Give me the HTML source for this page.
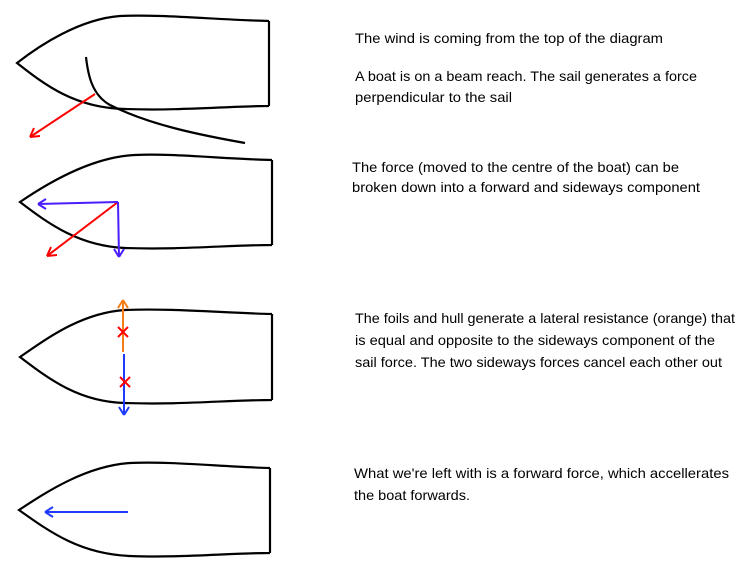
<!DOCTYPE html>
<html><head><style>body{margin:0;background:#fff}svg{display:block}</style></head><body>
<svg width="744" height="573" viewBox="0 0 744 573" xmlns="http://www.w3.org/2000/svg">
<g fill="none" stroke="#000" stroke-width="2.2">
<path d="M269,21 C220,20 160,14 120,16 C80,19 40,45 17,63 C45,85 75,108 125,109 C180,111 230,106 269,106 M269,21 V106"/>
<path d="M86,57 C88,75 92,95 110,105 C150,125 200,135 245,143"/>
<path d="M272,160 C225,159 170,153 135,155 C90,157 45,185 20,202 C50,225 80,246 125,248 C180,250 230,245 272,245 M272,160 V245"/>
<path d="M272,314 C225,313 170,308 125,310 C80,313 45,340 20,357 C50,380 80,402 125,403 C180,405 230,400 272,400 M272,314 V400"/>
<path d="M270,468 C225,467 170,461 130,463 C85,466 45,493 19,510 C50,532 80,554 130,556 C180,558 230,553 270,553 M270,468 V553"/>
</g>
<g stroke-width="2" fill="none">
<line x1="95" y1="94" x2="30" y2="137" stroke="#f00"/>
<path d="M30,137 l10,-1 M30,137 l4,-9" stroke="#f00"/>
<line x1="118" y1="202" x2="47" y2="256" stroke="#f00"/>
<path d="M47,256 l10,-1 M47,256 l4,-9" stroke="#f00"/>
<line x1="118" y1="202" x2="38" y2="204" stroke="#4a1eff"/>
<path d="M38,204 l8,-5 M38,204 l8,5" stroke="#4a1eff"/>
<line x1="118" y1="202" x2="119" y2="257" stroke="#4a1eff"/>
<path d="M119,257 l-5,-8 M119,257 l5,-8" stroke="#4a1eff"/>
<line x1="123" y1="352" x2="123" y2="300" stroke="#f57c16"/>
<path d="M123,300 l-5,8 M123,300 l5,8" stroke="#f57c16"/>
<line x1="124" y1="354" x2="124" y2="415" stroke="#1f3aff"/>
<path d="M124,415 l-5,-8 M124,415 l5,-8" stroke="#1f3aff"/>
<path d="M118,327 l10,10 M128,327 l-10,10 M120,377 l10,10 M130,377 l-10,10" stroke="#f00"/>
<line x1="128" y1="512" x2="45" y2="512" stroke="#1f3aff"/>
<path d="M45,512 l8,-5 M45,512 l8,5" stroke="#1f3aff"/>
</g>
<g font-family="Liberation Sans, sans-serif" font-size="14" fill="#000">
<text x="355" y="43" textLength="308" lengthAdjust="spacingAndGlyphs">The wind is coming from the top of the diagram</text>
<text x="355" y="81" textLength="342" lengthAdjust="spacingAndGlyphs">A boat is on a beam reach.  The sail generates a force</text>
<text x="355" y="102" textLength="157" lengthAdjust="spacingAndGlyphs">perpendicular to the sail</text>
<text x="352" y="172" textLength="327" lengthAdjust="spacingAndGlyphs">The force (moved to the centre of the boat) can be</text>
<text x="352" y="192" textLength="348" lengthAdjust="spacingAndGlyphs">broken down into a forward and sideways component</text>
<text x="355" y="323" textLength="380" lengthAdjust="spacingAndGlyphs">The foils and hull generate a lateral resistance (orange) that</text>
<text x="355" y="345" textLength="360" lengthAdjust="spacingAndGlyphs">is equal and opposite to the sideways component of the</text>
<text x="355" y="367" textLength="367" lengthAdjust="spacingAndGlyphs">sail force.  The two sideways forces cancel each other out</text>
<text x="354" y="478" textLength="375" lengthAdjust="spacingAndGlyphs">What we're left with is a forward force, which accellerates</text>
<text x="354" y="500" textLength="116" lengthAdjust="spacingAndGlyphs">the boat forwards.</text>
</g>
</svg>
</body></html>
